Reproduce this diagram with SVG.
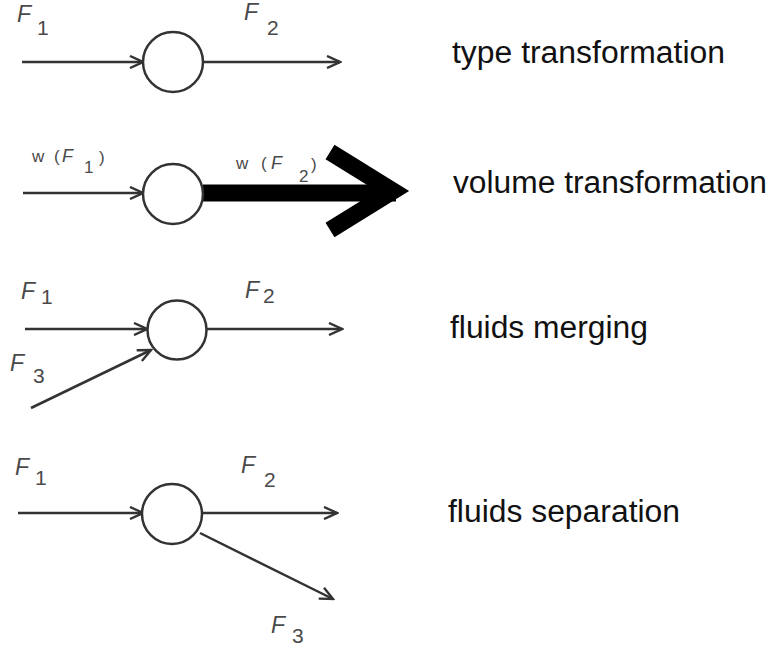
<svg xmlns="http://www.w3.org/2000/svg" width="773" height="653" viewBox="0 0 773 653">
  <style>
    .node { fill: #ffffff; stroke: #333333; stroke-width: 2.5; }
    .edge { fill: none; stroke: #333333; stroke-width: 2.5; }
    .thick { fill: none; stroke: #000000; stroke-width: 17; }
    .lbl { font-family: "Liberation Sans", Arial, sans-serif; fill: #4a4a4a; }
    .F { font-style: italic; font-size: 23px; }
    .sub { font-size: 21px; }
    .wl { font-family: "Liberation Sans", Arial, sans-serif; fill: #4a4a4a; font-size: 17px; }
    .cap { font-family: "Liberation Sans", Arial, sans-serif; fill: #111111; font-size: 31px; }
  </style>
  <defs>
    <marker id="arr" viewBox="0 0 16 14" refX="14" refY="7" markerWidth="16" markerHeight="14" markerUnits="userSpaceOnUse" orient="auto">
      <path d="M1,1 L14,7 L1,13" fill="none" stroke="#333333" stroke-width="2.4"/>
    </marker>
  </defs>
  <rect x="0" y="0" width="773" height="653" fill="#ffffff"/>

  <g id="connectors">
    <!-- row 1 -->
    <line class="edge" x1="22" y1="62" x2="143" y2="62" marker-end="url(#arr)"/>
    <line class="edge" x1="203" y1="62" x2="340" y2="62" marker-end="url(#arr)"/>
    <!-- row 2 -->
    <line class="edge" x1="23" y1="193" x2="143" y2="193" marker-end="url(#arr)"/>
    <line class="thick" x1="203" y1="193" x2="396" y2="193"/>
    <polyline class="thick" points="330,152 393,191 330,230" stroke-linejoin="miter" stroke-miterlimit="10"/>
    <!-- row 3 -->
    <line class="edge" x1="25" y1="329" x2="147" y2="329" marker-end="url(#arr)"/>
    <line class="edge" x1="207" y1="329" x2="342" y2="329" marker-end="url(#arr)"/>
    <line class="edge" x1="31" y1="408" x2="151" y2="350" marker-end="url(#arr)"/>
    <!-- row 4 -->
    <line class="edge" x1="18" y1="513" x2="143" y2="513" marker-end="url(#arr)"/>
    <line class="edge" x1="202" y1="513" x2="337" y2="513" marker-end="url(#arr)"/>
    <line class="edge" x1="200" y1="533" x2="333" y2="599" marker-end="url(#arr)"/>
  </g>

  <g id="node-type">
    <circle class="node" cx="173" cy="62" r="30"/>
  </g>
  <g id="node-volume">
    <circle class="node" cx="173" cy="194" r="30"/>
  </g>
  <g id="node-merging">
    <circle class="node" cx="177" cy="330" r="29.5"/>
  </g>
  <g id="node-separation">
    <circle class="node" cx="172" cy="514" r="30"/>
  </g>

  <g id="labels">
    <!-- row 1 -->
    <text class="lbl F" x="17" y="22">F</text>
    <text class="lbl sub" x="37" y="35">1</text>
    <text class="lbl F" x="244" y="20">F</text>
    <text class="lbl sub" x="267" y="35">2</text>
    <!-- row 2 -->
    <text class="wl" y="162"><tspan x="32">w</tspan><tspan x="54">(</tspan><tspan x="62" font-style="italic" font-size="18">F</tspan><tspan x="84" y="173">1</tspan><tspan x="99" y="163">)</tspan></text>
    <text class="wl" y="169"><tspan x="236">w</tspan><tspan x="261">(</tspan><tspan x="271" font-style="italic" font-size="18">F</tspan><tspan x="299" y="182">2</tspan><tspan x="311" y="170">)</tspan></text>
    <!-- row 3 -->
    <text class="lbl F" x="21" y="299">F</text>
    <text class="lbl sub" x="41" y="304">1</text>
    <text class="lbl F" x="245" y="298">F</text>
    <text class="lbl sub" x="263" y="303">2</text>
    <text class="lbl F" x="10" y="371">F</text>
    <text class="lbl sub" x="33" y="383">3</text>
    <!-- row 4 -->
    <text class="lbl F" x="15" y="475">F</text>
    <text class="lbl sub" x="35" y="485">1</text>
    <text class="lbl F" x="241" y="473">F</text>
    <text class="lbl sub" x="264" y="487">2</text>
    <text class="lbl F" x="271" y="633">F</text>
    <text class="lbl sub" x="292" y="643">3</text>
  </g>

  <g id="captions">
    <text class="cap" x="452" y="63" textLength="273" lengthAdjust="spacingAndGlyphs">type transformation</text>
    <text class="cap" x="453" y="193" textLength="314" lengthAdjust="spacingAndGlyphs">volume transformation</text>
    <text class="cap" x="450" y="338" textLength="198" lengthAdjust="spacingAndGlyphs">fluids merging</text>
    <text class="cap" x="448" y="522" textLength="232" lengthAdjust="spacingAndGlyphs">fluids separation</text>
  </g>
</svg>
